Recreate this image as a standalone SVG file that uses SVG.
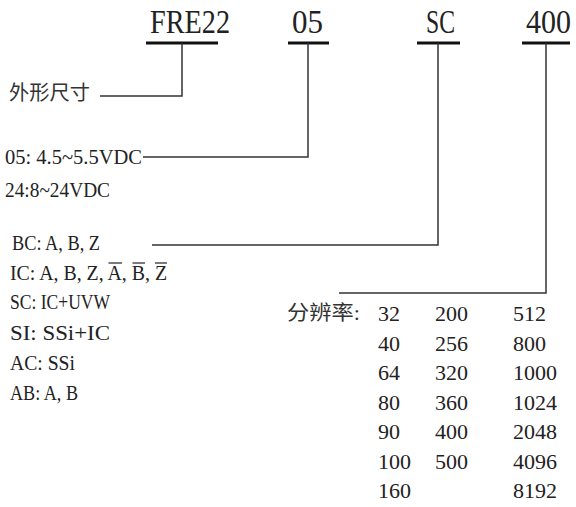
<svg xmlns="http://www.w3.org/2000/svg" width="576" height="507" viewBox="0 0 576 507">
<style>
.hd{font-family:"Liberation Serif",serif;font-size:34px;fill:#222}
.t{font-family:"Liberation Serif",serif;font-size:22px;fill:#222}
.n{font-family:"Liberation Serif",serif;font-size:22px;fill:#222}
.cj{font-family:"Liberation Serif","Noto Sans CJK SC",serif;font-size:20px;fill:#333}
.ul{stroke:#111;stroke-width:3;fill:none}
.cn{stroke:#333;stroke-width:1.5;fill:none}
.ov{stroke:#222;stroke-width:1.2;fill:none}
</style>
<rect width="576" height="507" fill="#fff"/>
<g id="code-fre22">
<text class="hd" x="150" y="33" textLength="80" lengthAdjust="spacingAndGlyphs">FRE22</text>
<line class="ul" x1="146" y1="43" x2="218" y2="43"/>
</g>
<g id="code-05">
<text class="hd" x="292" y="33" textLength="31" lengthAdjust="spacingAndGlyphs">05</text>
<line class="ul" x1="288" y1="43" x2="329" y2="43"/>
</g>
<g id="code-sc">
<text class="hd" x="426" y="33" textLength="29" lengthAdjust="spacingAndGlyphs">SC</text>
<line class="ul" x1="417" y1="43" x2="460" y2="43"/>
</g>
<g id="code-400">
<text class="hd" x="526" y="33" textLength="45" lengthAdjust="spacingAndGlyphs">400</text>
<line class="ul" x1="522" y1="43" x2="570" y2="43"/>
</g>
<g id="connectors">
<polyline class="cn" points="182,43 182,96 100,96"/>
<polyline class="cn" points="308,43 308,157 143,157"/>
<polyline class="cn" points="438,43 438,245 152,245"/>
<polyline class="cn" points="546,43 546,293 339,293"/>
</g>
<g id="size">
<text class="cj" x="9" y="100" textLength="81" lengthAdjust="spacingAndGlyphs">外形尺寸</text>
</g>
<g id="voltage">
<text class="t" x="5" y="164" textLength="137" lengthAdjust="spacingAndGlyphs">05: 4.5~5.5VDC</text>
<text class="t" x="5" y="197" textLength="105" lengthAdjust="spacingAndGlyphs">24:8~24VDC</text>
</g>
<g id="output">
<text class="t" x="12" y="250" textLength="88" lengthAdjust="spacingAndGlyphs">BC: A, B, Z</text>
<text class="t" x="10" y="280" textLength="157" lengthAdjust="spacingAndGlyphs">IC: A, B, Z, A, B, Z</text>
<line class="ov" x1="108.5" y1="263" x2="122" y2="263"/>
<line class="ov" x1="132.5" y1="263" x2="145" y2="263"/>
<line class="ov" x1="155" y1="263" x2="167" y2="263"/>
<text class="t" x="10" y="309" textLength="100" lengthAdjust="spacingAndGlyphs">SC: IC+UVW</text>
<text class="t" x="10" y="340" textLength="100" lengthAdjust="spacingAndGlyphs">SI: SSi+IC</text>
<text class="t" x="10" y="370" textLength="65" lengthAdjust="spacingAndGlyphs">AC: SSi</text>
<text class="t" x="10" y="400" textLength="68" lengthAdjust="spacingAndGlyphs">AB: A, B</text>
</g>
<g id="resolution">
<text class="cj" x="287" y="320" textLength="73" lengthAdjust="spacingAndGlyphs">分辨率:</text>
<text class="n" x="378" y="321">32</text><text class="n" x="435" y="321">200</text><text class="n" x="513" y="321">512</text>
<text class="n" x="378" y="351">40</text><text class="n" x="435" y="351">256</text><text class="n" x="513" y="351">800</text>
<text class="n" x="378" y="380">64</text><text class="n" x="435" y="380">320</text><text class="n" x="513" y="380">1000</text>
<text class="n" x="378" y="410">80</text><text class="n" x="435" y="410">360</text><text class="n" x="513" y="410">1024</text>
<text class="n" x="378" y="439">90</text><text class="n" x="435" y="439">400</text><text class="n" x="513" y="439">2048</text>
<text class="n" x="378" y="469">100</text><text class="n" x="435" y="469">500</text><text class="n" x="513" y="469">4096</text>
<text class="n" x="378" y="498">160</text><text class="n" x="513" y="498">8192</text>
</g>
</svg>
